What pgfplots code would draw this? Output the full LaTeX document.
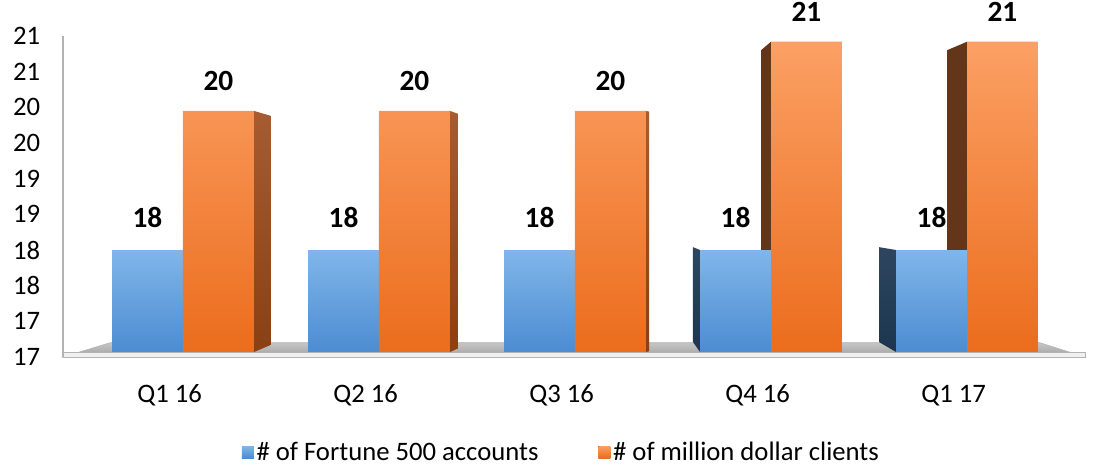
\documentclass[border=0pt]{standalone}
\usepackage{pgfplots}
\pgfplotsset{compat=1.18}
\usepackage{fontspec}
\setmainfont{Carlito}
\definecolor{bluetop}{HTML}{80B6EA}
\definecolor{bluebot}{HTML}{4A8AD0}
\definecolor{orgtop}{HTML}{FBA064}
\definecolor{orgbot}{HTML}{EB6C1C}
\definecolor{brtop}{HTML}{A65C30}
\definecolor{brbot}{HTML}{8A4012}
\definecolor{dkbrown}{HTML}{63361A}
\definecolor{navytop}{HTML}{2E4660}
\definecolor{navybot}{HTML}{1C3650}
\begin{document}
\begin{tikzpicture}
\begin{axis}[
  scale only axis, width=766.5pt, height=240.75pt,
  xmin=-0.612, xmax=4.602, ymin=16.5, ymax=21,
  clip=false,
  axis lines=left, axis line style={-},
  x axis line style={draw=none},
  y axis line style={draw=gray!60, line width=1.1pt},
  major tick length=0pt, tick style={draw=none},
  ytick={16.5,17,17.5,18,18.5,19,19.5,20,20.5,21},
  yticklabels={17,17,18,18,19,19,20,20,21,21},
  xtick={0,1,2,3,4},
  xticklabels={Q1 16,Q2 16,Q3 16,Q4 16,Q1 17},
  ticklabel style={font=\fontsize{20}{20}\selectfont},
  yticklabel style={anchor=east, inner sep=0pt, xshift=-17pt},
  xticklabel style={anchor=base, inner sep=0pt, yshift=-34pt, xshift=-10pt},
  /pgf/number format/assume math mode=true,
  legend style={at={(axis description cs:0.488,-0.296)}, anchor=center, draw=none,
    legend columns=2, font=\fontsize{20}{20}\selectfont,
    /tikz/every even column/.append style={column sep=43pt}},
  legend image code/.code={\fill[#1] (0pt,-4.5pt) rectangle (9pt,4.5pt);},
  every node near coord/.append style={anchor=base, inner sep=0pt,
    font=\bfseries\fontsize{22}{22}\selectfont, text=black},
]
\coordinate (o) at (rel axis cs:0,0);
% floor top face
\addplot[forget plot, draw=gray!60, top color=gray!45, bottom color=gray!75]
  coordinates {(-0.612,16.5) (4.602,16.5) (4.372,16.70) (-0.372,16.70)} -- cycle;
% side faces
\addplot[forget plot, draw=none, top color=brtop, bottom color=brbot]
  coordinates {(0.362,19.95) (0.449,19.88) (0.449,16.67) (0.362,16.57)} -- cycle;
\addplot[forget plot, draw=none, top color=brtop, bottom color=brbot]
  coordinates {(1.362,19.95) (1.403,19.91) (1.403,16.62) (1.362,16.57)} -- cycle;
\addplot[forget plot, draw=none, top color=brtop, bottom color=brbot]
  coordinates {(2.362,19.95) (2.378,19.94) (2.378,16.58) (2.362,16.57)} -- cycle;
\addplot[forget plot, draw=none, fill=dkbrown]
  coordinates {(2.949,20.80) (3.0,20.92) (3.0,17.5) (2.949,17.5)} -- cycle;
\addplot[forget plot, draw=none, fill=dkbrown]
  coordinates {(3.898,20.80) (4.0,20.92) (4.0,17.5) (3.898,17.5)} -- cycle;
\addplot[forget plot, draw=none, top color=navytop, bottom color=navybot]
  coordinates {(2.602,18.04) (2.638,18.0) (2.638,16.57) (2.602,16.71)} -- cycle;
\addplot[forget plot, draw=none, top color=navytop, bottom color=navybot]
  coordinates {(3.551,18.04) (3.638,18.0) (3.638,16.57) (3.551,16.71)} -- cycle;
% bars
\addplot[ybar, bar width=0.362, bar shift=-0.181, draw=none,
  top color=bluetop, bottom color=bluebot,
  every node near coord/.append style={xshift=-26.6pt, yshift=17pt},
  nodes near coords={\pgfmathprintnumber[fixed,precision=0]{\pgfplotspointmeta}}]
  coordinates {(0,18.0) (1,18.0) (2,18.0) (3,18.0) (4,18.0)};
\addlegendentry{\# of Fortune 500 accounts}
\addplot[ybar, bar width=0.362, bar shift=0.181, draw=none,
  top color=orgtop, bottom color=orgbot,
  every node near coord/.append style={xshift=26.6pt, yshift=15pt},
  nodes near coords={\pgfmathprintnumber[fixed,precision=0]{\pgfplotspointmeta}}]
  coordinates {(0,19.95) (1,19.95) (2,19.95) (3,20.92) (4,20.92)};
\addlegendentry{\# of million dollar clients}
% floor front strip
\addplot[forget plot, draw=gray!60, fill=gray!12]
  coordinates {(-0.612,16.5) (4.602,16.5) (4.602,16.56) (-0.612,16.56)} -- cycle;
\end{axis}
\pgfresetboundingbox
\path ([xshift=-47.25pt,yshift=-83.25pt]o) rectangle ([xshift=773.25pt,yshift=267.75pt]o);
\end{tikzpicture}
\end{document}
